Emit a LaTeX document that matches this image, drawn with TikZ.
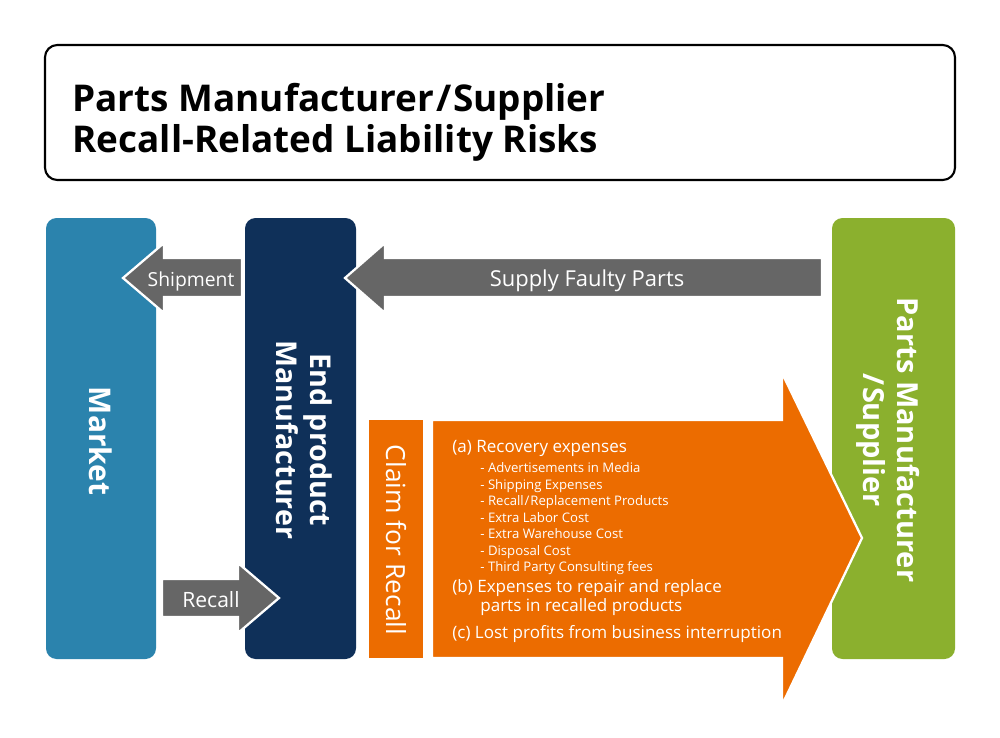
\documentclass[tikz,border=0pt]{standalone}
\usepackage{fontspec}
\setmainfont{Open Sans}
\definecolor{mkt}{HTML}{2B83AD}
\definecolor{navy}{HTML}{0F3059}
\definecolor{grn}{HTML}{8BB02E}
\definecolor{org}{HTML}{EC6C00}
\definecolor{arr}{HTML}{666666}
\begin{document}
\begin{tikzpicture}[x=0.02cm,y=-0.02cm,
  column/.style={rounded corners=6pt},
  blockarrow/.style={draw=white,line width=1.3pt,line join=miter},
  lbl/.style={text=white,inner sep=0pt},
  item/.style={text=white,inner sep=0pt,anchor=base west,font=\fontsize{7.5}{8}\selectfont},
  head/.style={text=white,inner sep=0pt,anchor=base west,font=\fontsize{9.7}{11}\selectfont}]
\useasboundingbox (0,0) rectangle (1000,737);
% title
\draw[line width=1.2pt,rounded corners=7pt] (45,45) rectangle (955,180);
\node[anchor=base west,inner sep=0pt,font=\fontsize{21}{25}\selectfont\bfseries] (t1) at (72,111) {Parts Manufacturer\kern1pt/\kern1pt Supplier};
\node[anchor=base west,inner sep=0pt,font=\fontsize{21}{25}\selectfont\bfseries] (t2) at (72,152) {Recall-Related Liability Risks};
% columns
\fill[mkt,column] (46,218) rectangle (156,659);
\fill[navy,column] (245,218) rectangle (356,659);
\fill[grn,column] (832,218) rectangle (955,659);
\node[lbl,rotate=-90,font=\fontsize{17}{20}\selectfont\bfseries] (market) at (101,441) {Market};
\node[lbl,rotate=-90,align=center,font=\fontsize{16.3}{19.5}\selectfont\bfseries] (endm) at (304,440) {End product\\Manufacturer};
\node[lbl,rotate=-90,align=center,font=\fontsize{16.5}{19.5}\selectfont\bfseries] (parts) at (888,440) {Parts Manufacturer\\/\kern1pt Supplier};
% gray arrows
\path[blockarrow,fill=arr] (242,258)--(164,258)--(164,243)--(123,278)--(164,313)--(164,297)--(242,297)--cycle;
\node[lbl,anchor=base,font=\fontsize{11}{13}\selectfont] (ship) at (191,286) {Shipment};
\path[blockarrow,fill=arr] (822,258)--(385,258)--(385,243)--(345,278)--(385,313)--(385,297)--(822,297)--cycle;
\node[lbl,anchor=base,font=\fontsize{12.5}{14}\selectfont] (supply) at (587,286) {Supply Faulty Parts};
\path[blockarrow,fill=arr] (162,579)--(238,579)--(238,563)--(279,598)--(238,633)--(238,617)--(162,617)--cycle;
\node[lbl,anchor=base,font=\fontsize{12}{14}\selectfont] (recall) at (211,607) {Recall};
% claim
\fill[org] (369,420) rectangle (423,658);
\node[lbl,rotate=-90,font=\fontsize{15}{18}\selectfont] (claim) at (396,540) {Claim for Recall};
\path[blockarrow,fill=org] (432,420)--(782,420)--(782,373)--(862,538)--(782,705)--(782,658)--(432,658)--cycle;
\node[head] (ha) at (452,452) {(a) Recovery expenses};
\node[item] (i1) at (480,472) {- Advertisements in Media};
\node[item] (i2) at (480,489) {- Shipping Expenses};
\node[item] (i3) at (480,505) {- Recall\kern0.5pt/\kern0.5pt Replacement Products};
\node[item] (i4) at (480,522) {- Extra Labor Cost};
\node[item] (i5) at (480,538) {- Extra Warehouse Cost};
\node[item] (i6) at (480,555) {- Disposal Cost};
\node[item] (i7) at (480,571) {- Third Party Consulting fees};
\node[head] (hb) at (452,592) {(b) Expenses to repair and replace};
\node[head] (hb2) at (480,611) {parts in recalled products};
\node[head] (hc) at (452,638) {(c) Lost profits from business interruption};
\end{tikzpicture}
\end{document}
